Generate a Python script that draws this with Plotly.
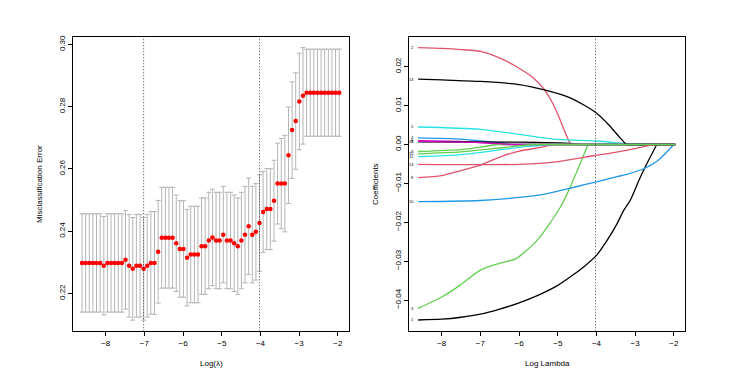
import plotly.graph_objects as go

# cross-validation curve (left panel)
log_lambda = [-8.611, -8.517, -8.424, -8.330, -8.237, -8.143, -8.049, -7.956, -7.862, -7.769,
              -7.675, -7.581, -7.488, -7.394, -7.301, -7.207, -7.113, -7.020, -6.926, -6.833,
              -6.739, -6.645, -6.552, -6.458, -6.365, -6.271, -6.177, -6.084, -5.990, -5.897,
              -5.803, -5.709, -5.616, -5.522, -5.429, -5.335, -5.241, -5.148, -5.054, -4.961,
              -4.867, -4.773, -4.680, -4.586, -4.493, -4.399, -4.305, -4.212, -4.118, -4.025,
              -3.931, -3.837, -3.744, -3.650, -3.557, -3.463, -3.369, -3.276, -3.182, -3.089,
              -2.995, -2.901, -2.808, -2.714, -2.621, -2.527, -2.433, -2.340, -2.246, -2.153,
              -2.059, -1.965]
cv_error = [0.2298, 0.2298, 0.2298, 0.2298, 0.2298, 0.2298, 0.2289, 0.2298, 0.2298, 0.2298,
            0.2298, 0.2298, 0.2308, 0.2289, 0.2279, 0.2289, 0.2289, 0.2279, 0.2289, 0.2298,
            0.2298, 0.2334, 0.2379, 0.2379, 0.2379, 0.2379, 0.2361, 0.2343, 0.2343, 0.2315,
            0.2325, 0.2325, 0.2325, 0.2352, 0.2352, 0.2370, 0.2380, 0.2370, 0.2370, 0.2389,
            0.2370, 0.2370, 0.2361, 0.2352, 0.2370, 0.2389, 0.2416, 0.2389, 0.2398, 0.2426,
            0.2462, 0.2471, 0.2471, 0.2498, 0.2553, 0.2553, 0.2553, 0.2644, 0.2725, 0.2754,
            0.2817, 0.2835, 0.2845, 0.2845, 0.2845, 0.2845, 0.2845, 0.2845, 0.2845, 0.2845,
            0.2845, 0.2845]
cv_sd = [0.0158, 0.0158, 0.0158, 0.0158, 0.0158, 0.0158, 0.0158, 0.0158, 0.0158, 0.0158,
         0.0158, 0.0158, 0.0158, 0.0165, 0.0165, 0.0165, 0.0165, 0.0165, 0.0165, 0.0165,
         0.0165, 0.0165, 0.0162, 0.0162, 0.0162, 0.0162, 0.0155, 0.0155, 0.0155, 0.0155,
         0.0155, 0.0155, 0.0155, 0.0155, 0.0155, 0.0155, 0.0155, 0.0155, 0.0155, 0.0155,
         0.0155, 0.0155, 0.0155, 0.0155, 0.0155, 0.0155, 0.0155, 0.0155, 0.0155, 0.0155,
         0.0130, 0.0130, 0.0130, 0.0130, 0.0130, 0.0145, 0.0155, 0.0155, 0.0155, 0.0155,
         0.0155, 0.0155, 0.0140, 0.0140, 0.0140, 0.0140, 0.0140, 0.0140, 0.0140, 0.0140,
         0.0140, 0.0140]
idx_min = 17
idx_1se = 49
nz_at = [0, 5, 10, 15, 20, 25, 30, 35, 39, 43, 47, 51, 55, 59, 63, 67, 71]
nz_count = [15, 15, 15, 15, 14, 13, 11, 11, 8, 7, 5, 5, 5, 4, 3, 1, 0]

# coefficient paths (right panel), knots read along each curve up to where it reaches zero
b1_x = [-8.61, -8.0, -7.5, -7.0, -6.5, -6.0, -5.5, -5.0, -4.6, -4.3, -4.0, -3.73, -3.47, -3.3, -3.13, -2.87, -2.66, -2.44]
b1_y = [-0.0451, -0.0449, -0.0444, -0.0436, -0.0423, -0.0407, -0.0387, -0.0362, -0.0335, -0.0312, -0.0285, -0.0247, -0.0204, -0.0170, -0.0144, -0.0085, -0.0042, 0.0]
b2_x = [-8.61, -8.0, -7.5, -7.0, -6.41, -6.0, -5.63, -5.37, -5.16, -4.98, -4.86, -4.73, -4.66]
b2_y = [0.0249, 0.0247, 0.0244, 0.0239, 0.0218, 0.0196, 0.0171, 0.0144, 0.0111, 0.0073, 0.0043, 0.0013, 0.0]
b3_x = [-8.61, -8.0, -7.53, -7.0, -6.49, -6.09, -5.54, -5.16, -4.94, -4.75, -4.5, -4.22]
b3_y = [-0.0421, -0.0392, -0.0362, -0.0323, -0.0305, -0.0294, -0.0247, -0.0196, -0.0162, -0.0125, -0.0068, 0.0]
b4_x = [-8.61, -7.5, -6.8, -6.15]
b4_y = [0.0017, 0.0014, 0.0007, 0.0]
b5_x = [-8.61, -7.0, -6.0, -5.0, -4.0, -3.3, -2.96]
b5_y = [0.0045, 0.0039, 0.0026, 0.0013, 0.0009, 0.0003, 0.0]
b6_x = [-8.61, -7.5, -6.9, -6.4]
b6_y = [0.0010, 0.0008, 0.0004, 0.0]
b7_x = [-8.61, -6.0, -5.0, -4.6, -4.35]
b7_y = [0.0007, 0.0006, 0.0004, 0.0002, 0.0]
b8_x = [-8.61, -8.0, -7.5, -7.0, -6.41, -6.0, -5.37, -5.12]
b8_y = [-0.0085, -0.0080, -0.0067, -0.0053, -0.0029, -0.0017, -0.0006, 0.0]
b9_x = [-8.61, -7.5, -7.0, -6.58]
b9_y = [-0.0018, -0.0013, -0.0007, 0.0]
b10_x = [-8.61, -7.0, -6.0, -5.37, -5.0, -4.5, -4.0, -3.65, -3.2, -2.79, -2.42, -2.0]
b10_y = [-0.0147, -0.0144, -0.0136, -0.0128, -0.0120, -0.0108, -0.0096, -0.0087, -0.0076, -0.0063, -0.0042, 0.0]
b11_x = [-8.61, -7.5, -6.5, -5.8, -5.12]
b11_y = [-0.0031, -0.0026, -0.0014, -0.0005, 0.0]
b12_x = [-8.61, -7.5, -6.6, -6.2]
b12_y = [0.0008, 0.0006, 0.0003, 0.0]
b13_x = [-8.61, -8.0, -7.0, -6.0, -5.37, -4.68, -4.0, -3.65, -3.39, -3.23]
b13_y = [0.0168, 0.0166, 0.0162, 0.0154, 0.0141, 0.0120, 0.0081, 0.0047, 0.0017, 0.0]
b14_x = [-8.61, -6.0, -5.0, -4.08, -3.22, -2.5]
b14_y = [-0.0051, -0.0051, -0.0044, -0.0029, -0.0015, 0.0]
b15_x = [-8.61, -7.5, -6.5, -5.7]
b15_y = [-0.0024, -0.0019, -0.0009, 0.0]

df_ticks = [-8, -7, -6, -5, -4, -3, -2]
df_count = [15, 15, 12, 9, 5, 4, 1]

palette = ["#000000", "#DF536B", "#61D04F", "#2297E6", "#28E2E5", "#CD0BBC"]
paths = [(b1_x, b1_y), (b2_x, b2_y), (b3_x, b3_y), (b4_x, b4_y), (b5_x, b5_y),
         (b6_x, b6_y), (b7_x, b7_y), (b8_x, b8_y), (b9_x, b9_y), (b10_x, b10_y),
         (b11_x, b11_y), (b12_x, b12_y), (b13_x, b13_y), (b14_x, b14_y), (b15_x, b15_y)]
lam_end = log_lambda[-1]

FONT = "Liberation Sans, Arial, sans-serif"
W, H = 734, 380
xr = [-8.845, -1.712]

fig = go.Figure()

fig.add_trace(go.Scatter(
    x=log_lambda, y=cv_error, mode="markers",
    marker=dict(color="#FF0000", size=4.5),
    error_y=dict(type="data", array=cv_sd, color="#B4B4B4", thickness=1, width=2.5),
    xaxis="x", yaxis="y", showlegend=False, hoverinfo="skip"))

for k, (bx, by) in enumerate(paths):
    col = palette[k % 6]
    fig.add_trace(go.Scatter(
        x=bx, y=by, mode="lines",
        line=dict(color=col, width=1.3, shape="spline", smoothing=0.7),
        xaxis="x2", yaxis="y2", showlegend=False, hoverinfo="skip"))
    # after leaving the model the coefficient stays at zero
    fig.add_trace(go.Scatter(
        x=[bx[-1], lam_end], y=[by[-1], by[-1]], mode="lines",
        line=dict(color=col, width=1.3),
        xaxis="x2", yaxis="y2", showlegend=False, hoverinfo="skip"))

annotations = []
for k, (bx, by) in enumerate(paths):
    annotations.append(dict(x=bx[0], y=by[0], xref="x2", yref="y2", text=str(k + 1),
                            showarrow=False, xanchor="right", xshift=-2,
                            font=dict(size=4, color="#000000", family=FONT)))

title_font = dict(size=8, family=FONT, color="#000")
annotations += [
    dict(x=(73 + 349) / 2 / W, y=1 - 363 / H, xref="paper", yref="paper", text="Log(λ)",
         xanchor="center", yanchor="middle", showarrow=False, font=title_font),
    dict(x=39 / W, y=1 - 183 / H, xref="paper", yref="paper", text="Misclassification Error",
         xanchor="center", yanchor="middle", textangle=-90, showarrow=False, font=title_font),
    dict(x=(409 + 685) / 2 / W, y=1 - 363 / H, xref="paper", yref="paper", text="Log Lambda",
         xanchor="center", yanchor="middle", showarrow=False, font=title_font),
    dict(x=375 / W, y=1 - 183 / H, xref="paper", yref="paper", text="Coefficients",
         xanchor="center", yanchor="middle", textangle=-90, showarrow=False, font=title_font),
]

shapes = []
for v, xa in [(log_lambda[idx_min], "x"), (log_lambda[idx_1se], "x"), (log_lambda[idx_1se], "x2")]:
    shapes.append(dict(type="line", xref=xa, yref=("y" if xa == "x" else "y2") + " domain",
                       x0=v, x1=v, y0=0, y1=1,
                       line=dict(color="#333333", width=0.9, dash="1px,2px")))

ydom = [1 - 331 / H, 1 - 35 / H]
tick_font = dict(size=8, family=FONT, color="#000")
axis_common = dict(showline=True, mirror=True, linecolor="#000", linewidth=1,
                   showgrid=False, zeroline=False, ticks="outside", ticklen=4,
                   tickcolor="#000", tickfont=tick_font)

fig.update_layout(
    width=W, height=H, autosize=False,
    margin=dict(l=0, r=0, t=0, b=0),
    paper_bgcolor="white", plot_bgcolor="white",
    xaxis=dict(domain=[73 / W, 349 / W], range=xr, anchor="y",
               tickvals=[-8, -7, -6, -5, -4, -3, -2], **axis_common),
    yaxis=dict(domain=ydom, range=[0.20785, 0.30246], anchor="x",
               tickvals=[0.22, 0.24, 0.26, 0.28, 0.30], tickformat=".2f",
               tickangle=-90, **axis_common),
    xaxis2=dict(domain=[409 / W, 685 / W], range=xr, anchor="y2",
                tickvals=[-8, -7, -6, -5, -4, -3, -2], **axis_common),
    yaxis2=dict(domain=ydom, range=[-0.0480, 0.02767], anchor="x2",
                tickvals=[-0.04, -0.03, -0.02, -0.01, 0.0, 0.01, 0.02], tickformat=".2f",
                tickangle=-90, **axis_common),
    xaxis3=dict(overlaying="x", anchor="y", side="top", range=xr, showgrid=False,
                zeroline=False, showline=False, ticks="",
                tickvals=[log_lambda[i] for i in nz_at], ticktext=[str(c) for c in nz_count],
                tickfont=tick_font),
    xaxis4=dict(overlaying="x2", anchor="y2", side="top", range=xr, showgrid=False,
                zeroline=False, showline=False, ticks="outside", ticklen=4, tickcolor="#000",
                tickvals=df_ticks, ticktext=[str(c) for c in df_count],
                tickfont=tick_font),
    annotations=annotations,
    shapes=shapes,
)

fig.write_html("out.html", config={"displayModeBar": False},
               post_script="document.body.style.margin='0px';")
